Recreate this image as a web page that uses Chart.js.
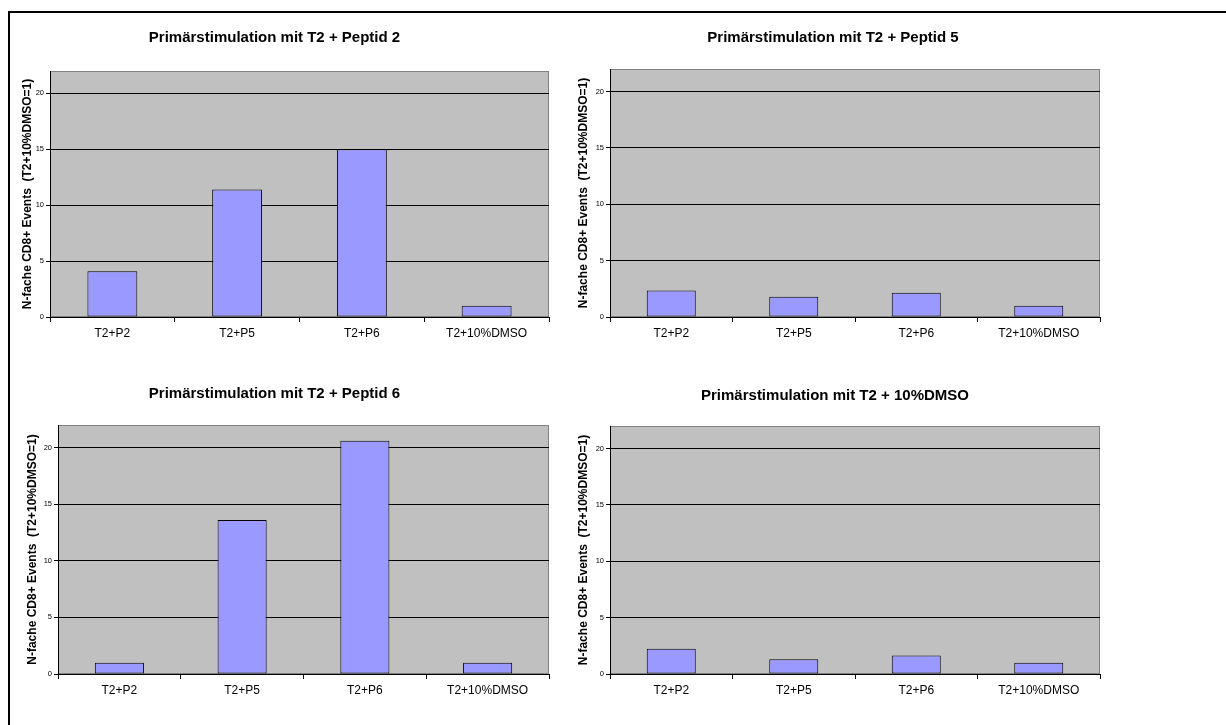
<!DOCTYPE html>
<html>
<head>
<meta charset="utf-8">
<script src="https://cdn.jsdelivr.net/npm/chart.js@4/dist/chart.umd.min.js"></script>
<style>
  html, body { margin: 0; padding: 0; background: #fff; width: 1226px; height: 725px; overflow: hidden; }
  .frame { position: absolute; left: 8px; top: 11px; width: 1400px; height: 900px;
           border-top: 2px solid #000; border-left: 2px solid #000; }
  canvas { position: absolute; }
</style>
</head>
<body>
<div class="frame"></div>
<canvas id="c1"></canvas>
<canvas id="c2"></canvas>
<canvas id="c3"></canvas>
<canvas id="c4"></canvas>
<script>
// Categories shared by all four panels
const categories = ['T2+P2', 'T2+P5', 'T2+P6', 'T2+10%DMSO'];

// Fold change of CD8+ events relative to T2 + 10% DMSO
const peptid2Values = [4.1, 11.4, 15.0, 1.0];
const peptid5Values = [2.35, 1.8, 2.15, 1.0];
const peptid6Values = [1.0, 13.6, 20.6, 1.0];
const dmsoValues    = [2.25, 1.3, 1.65, 1.0];

const panelTitles = [
  'Primärstimulation mit T2 + Peptid 2',
  'Primärstimulation mit T2 + Peptid 5',
  'Primärstimulation mit T2 + Peptid 6',
  'Primärstimulation mit T2 + 10%DMSO'
];
const yAxisTitle = 'N-fache CD8+ Events  (T2+10%DMSO=1)';
const yMax = 22;
const yStep = 5;

const FONT = '"Liberation Sans", Arial, sans-serif';

// Grey plot-area background with a thin grey frame
const plotBackground = {
  id: 'plotBackground',
  beforeDraw(chart) {
    const { ctx, chartArea: a } = chart;
    ctx.save();
    ctx.fillStyle = '#C0C0C0';
    ctx.fillRect(a.left, a.top, a.right - a.left, a.bottom - a.top);
    ctx.strokeStyle = '#808080';
    ctx.lineWidth = 1;
    ctx.strokeRect(a.left + 0.5, a.top + 0.5, a.right - a.left - 1, a.bottom - a.top - 1);
    ctx.restore();
  }
};

function makePanel(id, box, title, values, opts) {
  const cv = document.getElementById(id);
  cv.width = box.w; cv.height = box.h;
  cv.style.left = box.x + 'px'; cv.style.top = box.y + 'px';
  cv.style.width = box.w + 'px'; cv.style.height = box.h + 'px';

  return new Chart(cv, {
    type: 'bar',
    data: {
      labels: categories,
      datasets: [{
        data: values,
        backgroundColor: '#9999FF',
        borderColor: '#000000',
        borderWidth: 1,
        borderSkipped: false,
        barPercentage: 0.4,
        categoryPercentage: 1.0
      }]
    },
    options: {
      responsive: false,
      devicePixelRatio: 1,
      animation: false,
      events: [],
      layout: { padding: { left: 0, right: opts.padRight, top: 0, bottom: 0 } },
      plugins: {
        legend: { display: false },
        tooltip: { enabled: false },
        title: {
          display: true,
          text: title,
          color: '#000',
          font: { family: FONT, size: 15, weight: 'bold', lineHeight: 1.2 },
          padding: { top: opts.titleTop, bottom: opts.titleBottom }
        }
      },
      scales: {
        x: {
          grid: { display: true, offset: true, drawOnChartArea: false, drawTicks: true,
                  tickLength: 5, color: '#000', lineWidth: 1 },
          border: { display: true, color: '#000', width: 1 },
          ticks: { color: '#000', font: { family: FONT, size: 12 }, padding: 4,
                   maxRotation: 0, autoSkip: false },
          afterFit(scale) { scale.height = opts.xHeight; }
        },
        y: {
          min: 0, max: yMax,
          grid: { display: true, color: '#000', lineWidth: 1, drawTicks: true, tickLength: 4 },
          border: { display: true, color: '#000', width: 1 },
          ticks: { stepSize: yStep, includeBounds: false, color: '#000',
                   font: { family: FONT, size: 7.5 }, padding: 2 },
          title: {
            display: true,
            text: yAxisTitle,
            color: '#000',
            font: { family: FONT, size: 12, weight: 'bold', lineHeight: 1.2 },
            padding: { top: opts.yTitlePad, bottom: 0 }
          },
          afterFit(scale) { scale.width = opts.yWidth; }
        }
      }
    },
    plugins: [plotBackground]
  });
}

makePanel('c1', { x: 0, y: 0, w: 566, h: 360 }, panelTitles[0], peptid2Values,
  { padRight: 17, titleTop: 29, titleBottom: 24, xHeight: 43, yWidth: 50, yTitlePad: 20 });
makePanel('c2', { x: 566, y: 0, w: 544, h: 360 }, panelTitles[1], peptid5Values,
  { padRight: 10, titleTop: 29, titleBottom: 22, xHeight: 43, yWidth: 44, yTitlePad: 10 });
makePanel('c3', { x: 0, y: 360, w: 570, h: 365 }, panelTitles[2], peptid6Values,
  { padRight: 21, titleTop: 25, titleBottom: 22, xHeight: 51, yWidth: 58, yTitlePad: 25 });
makePanel('c4', { x: 570, y: 360, w: 536, h: 365 }, panelTitles[3], dmsoValues,
  { padRight: 6, titleTop: 27, titleBottom: 21, xHeight: 51, yWidth: 40, yTitlePad: 6 });
</script>
</body>
</html>
